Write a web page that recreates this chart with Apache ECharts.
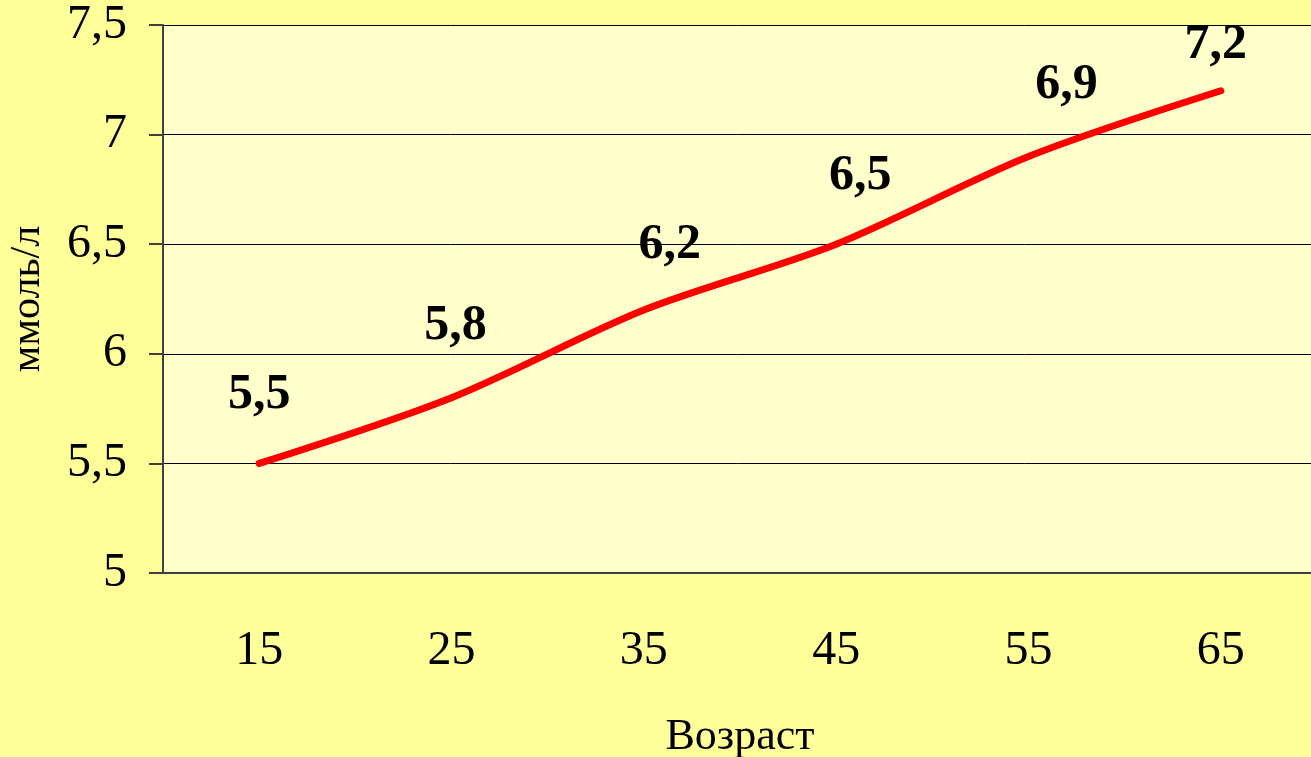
<!DOCTYPE html>
<html>
<head>
<meta charset="utf-8">
<script src="https://cdn.jsdelivr.net/npm/echarts@6/dist/echarts.min.js"></script>
<style>
  html, body { margin: 0; padding: 0; background: #FFFF99; }
  #chart { width: 1311px; height: 757px; }
</style>
</head>
<body>
<div id="chart"></div>
<script>
// Age groups (years) and mean level (mmol/l)
const ages = ['15', '25', '35', '45', '55', '65'];
const levels = [5.5, 5.8, 6.2, 6.5, 6.9, 7.2];
const yMin = 5, yMax = 7.5, yStep = 0.5;
const xTitle = 'Возраст';
const yTitle = 'ммоль/л';

const serif = '"Liberation Serif", "Times New Roman", serif';
const fmt = v => String(v).replace('.', ',');

// small per-label nudges (px) so value labels sit clear of the line and the top edge
const labelNudge = [[0, 0], [4, -4], [26, 3], [24, 0], [38, -3], [-5, 22]];

const chart = echarts.init(document.getElementById('chart'));
chart.setOption({
  backgroundColor: '#FFFF99',
  animation: false,
  grid: {
    left: 163, right: -6, top: 25, bottom: 184,
    outerBoundsMode: 'none',
    containLabel: false,
    show: true, backgroundColor: '#FFFFCC', borderWidth: 0
  },
  xAxis: {
    type: 'category',
    data: ages,
    boundaryGap: true,
    name: xTitle,
    nameLocation: 'middle',
    nameGap: 142,
    nameTextStyle: { fontFamily: serif, fontSize: 44, color: '#000' },
    axisLine: { lineStyle: { color: '#404040', width: 2 } },
    axisTick: { length: 16, lineStyle: { color: '#404040', width: 2 } },
    axisLabel: { fontFamily: serif, fontSize: 48, color: '#000', margin: 54 },
    splitLine: { show: false }
  },
  yAxis: {
    type: 'value',
    min: yMin, max: yMax, interval: yStep,
    name: yTitle,
    nameLocation: 'middle',
    nameGap: 114,
    nameRotate: 90,
    nameTextStyle: { fontFamily: serif, fontSize: 42, color: '#000' },
    axisLine: { show: true, lineStyle: { color: '#404040', width: 2 } },
    axisTick: { show: true, length: 14, lineStyle: { color: '#404040', width: 2 } },
    axisLabel: { fontFamily: serif, fontSize: 48, color: '#000', margin: 36, formatter: fmt },
    splitLine: { lineStyle: { color: '#000', width: 1 } }
  },
  series: [{
    type: 'line',
    data: levels,
    smooth: 0.3,
    symbol: 'circle',
    symbolSize: 2,
    showSymbol: true,
    itemStyle: { color: 'rgba(255,0,0,0)', borderWidth: 0 },
    lineStyle: { color: '#FF0000', width: 7, cap: 'round' },
    label: {
      show: true,
      position: 'top',
      distance: 42,
      fontFamily: serif,
      fontWeight: 'bold',
      fontSize: 50,
      color: '#000',
      formatter: p => fmt(p.value)
    },
    labelLayout: p => ({
      dx: labelNudge[p.dataIndex][0],
      dy: labelNudge[p.dataIndex][1],
      hideOverlap: false
    })
  }]
});
</script>
</body>
</html>
